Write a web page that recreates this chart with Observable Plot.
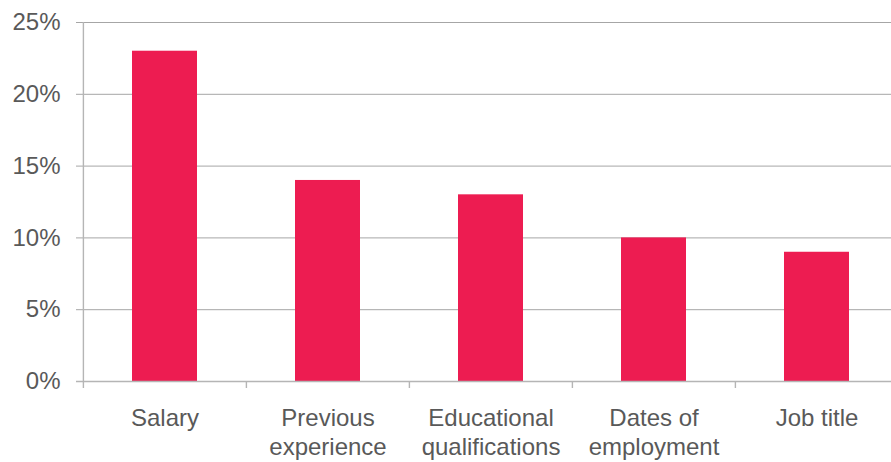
<!DOCTYPE html>
<html>
<head>
<meta charset="utf-8">
<script src="https://cdn.jsdelivr.net/npm/d3@7"></script>
<script src="https://cdn.jsdelivr.net/npm/@observablehq/plot@0.6"></script>
<style>
  html, body { margin: 0; padding: 0; background: #fff; overflow: hidden; }
  #chart { width: 891px; height: 462px; overflow: hidden; }
</style>
</head>
<body>
<div id="chart"></div>
<script>
const categories = ["Salary", "Previous\nexperience", "Educational\nqualifications", "Dates of\nemployment", "Job title"];
const values = [23, 14, 13, 10, 9];
const yTicks = [0, 5, 10, 15, 20, 25];

const data = categories.map((c, i) => ({category: c, value: values[i]}));

const width = 891, height = 462;
const marginLeft = 83, marginRight = -8, marginTop = 22, marginBottom = 81;
const step = (width - marginLeft - marginRight) / categories.length;
const textColor = "#595959";
const gridColor = "#A6A6A6";
const axisColor = "#B5B5B5";

const chart = Plot.plot({
  width, height, marginLeft, marginRight, marginTop, marginBottom,
  style: {fontFamily: "'Liberation Sans', Arial, sans-serif", background: "#fff", overflow: "visible"},
  x: {domain: categories, paddingInner: 0.6, paddingOuter: 0.3, label: null},
  y: {domain: [0, 25], label: null},
  marks: [
    Plot.ruleY(yTicks.filter(d => d > 0), {y: d => d, stroke: gridColor, strokeWidth: 1, insetLeft: -7}),
    Plot.barY(data, {x: "category", y: "value", fill: "#ED1C51"}),
    Plot.ruleY([0], {stroke: axisColor, strokeWidth: 1.4, insetLeft: -7}),
    Plot.ruleX([categories[0]], {x: d => d, dx: -step / 2, y1: 0, y2: 25, stroke: axisColor, strokeWidth: 1.4}),
    Plot.ruleX(categories, {x: d => d, dx: -step / 2, y1: 0, y2: 0, insetBottom: -7, stroke: axisColor, strokeWidth: 1.4}),
    Plot.axisY({ticks: yTicks, tickSize: 0, tickPadding: 23, tickFormat: d => d + "%", fontSize: 24, color: textColor, label: null}),
    Plot.axisX({tickSize: 0, tickPadding: 24, fontSize: 24, color: textColor, label: null, lineHeight: 1.2})
  ]
});
document.getElementById("chart").appendChild(chart);
</script>
</body>
</html>
